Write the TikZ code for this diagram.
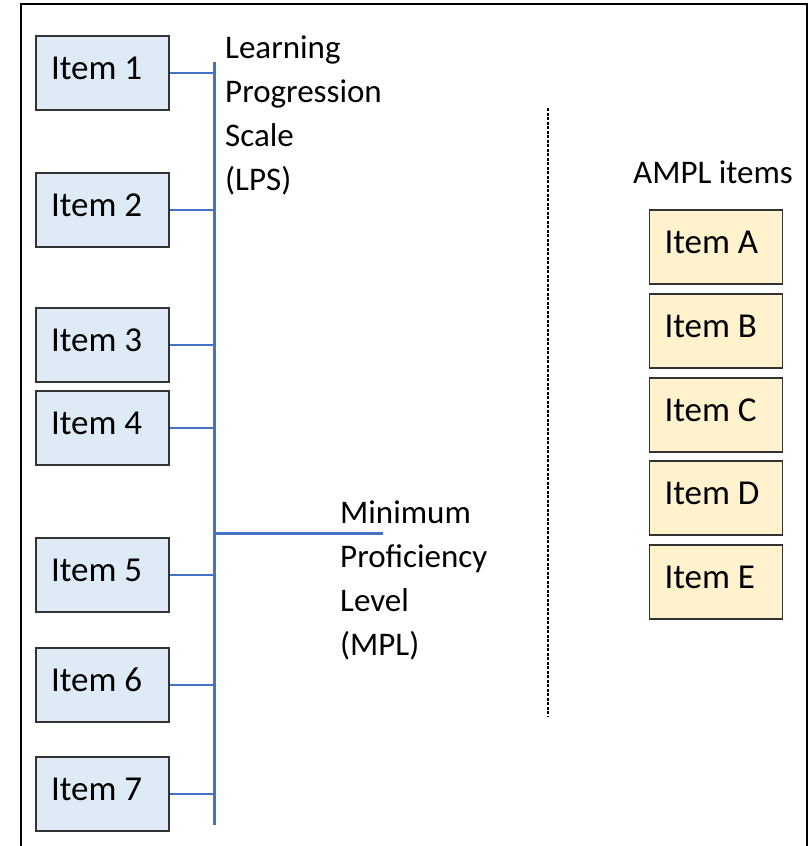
\documentclass[tikz,border=0pt]{standalone}
\usepackage{fontspec}
\setmainfont{Carlito}
\usepackage{xcolor}
\usepackage{tikz}
\usetikzlibrary{positioning,calc}
\definecolor{lpsblue}{HTML}{4472C4}
\definecolor{itemblue}{HTML}{DEEBF7}
\definecolor{itemtan}{HTML}{FFF2CC}
\definecolor{boxline}{HTML}{333333}

\tikzset{
  itembox/.style={draw=boxline, line width=1.6pt, text width=103pt, inner xsep=15pt,
    minimum height=74pt, align=flush left, text height=24pt, text depth=12pt,
    font=\fontsize{35}{42}\selectfont},
  lpsitem/.style={itembox, fill=itemblue},
  amplitem/.style={itembox, fill=itemtan},
  scaletext/.style={inner sep=0pt, align=flush left, font=\fontsize{33}{44}\selectfont},
  tick/.style={lpsblue, line width=1.4pt},
  scaleline/.style={lpsblue, line width=3pt}
}

\begin{document}
\begin{tikzpicture}[x=1pt, y=-1pt]
    \useasboundingbox (0,0) rectangle (810,846);
    \draw[line width=1.5pt] (21,846) -- (21,4) -- (807,4) -- (807,846);

    % items on the scale
    \foreach \n/\y in {1/73, 2/210, 3/345, 4/428, 5/575, 6/685, 7/794}
        \node[lpsitem] (item\n) at (102.5,\y) {Item \n};

    \coordinate (lpstop) at (214,62);
    \coordinate (lpsbot) at (214,825);
    \draw[scaleline] (lpstop) -- (lpsbot);
    \foreach \n in {1,...,7}
        \draw[tick] (item\n.east) -- (item\n.east -| lpstop);

    \coordinate (mplend) at (383,533);
    \draw[scaleline] (mplend -| lpstop) -- (mplend);

    \node[scaletext, anchor=north west] (lps) at (225,36) {Learning\\Progression\\Scale\\(LPS)};
    \node[scaletext, anchor=north west] (mpl) at (340,501) {Minimum\\Proficiency\\Level\\(MPL)};

    % divider
    \coordinate (divtop) at (548,108);
    \coordinate (divbot) at (548,717);
    \draw[line width=1.2pt, dash pattern=on 3pt off 1.5pt] (divtop) -- (divbot);

    % AMPL items
    \node[scaletext, anchor=base west] (ampl) at (633,183) {AMPL items};
    \foreach \n/\y in {A/247, B/331, C/415, D/498, E/582}
        \node[amplitem] (item\n) at (716,\y) {Item \n};
\end{tikzpicture}
\end{document}
